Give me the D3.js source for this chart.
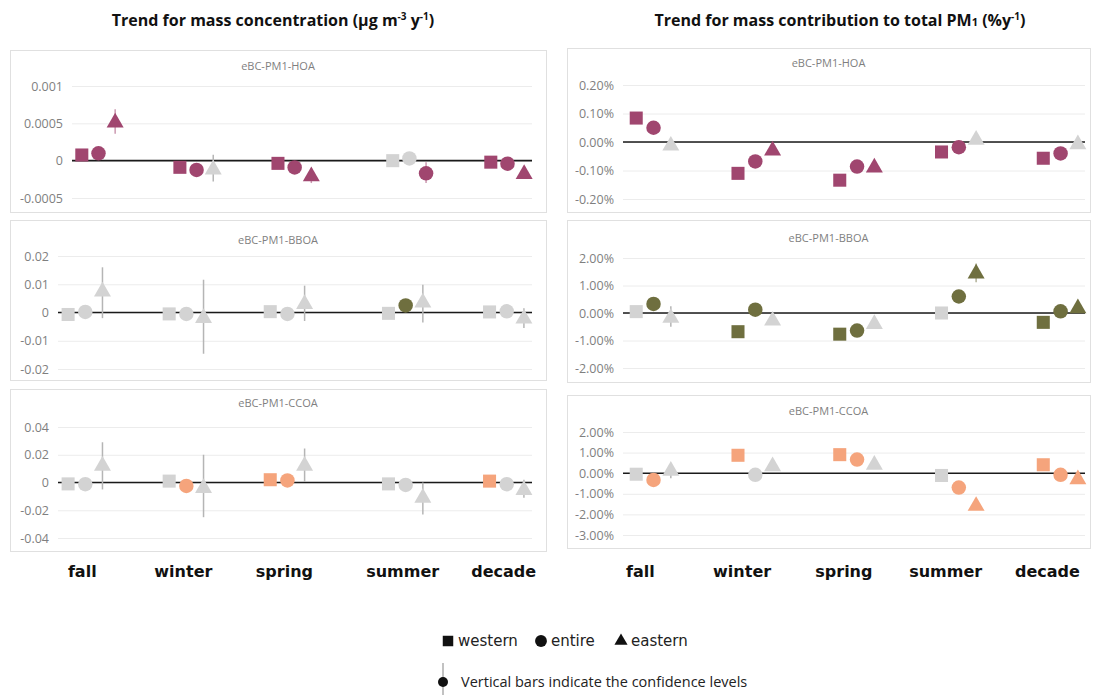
<!DOCTYPE html>
<html>
<head>
<meta charset="utf-8">
<script src="https://cdn.jsdelivr.net/npm/d3@7"></script>
<style>
  body { margin: 0; background: #fff; }
  svg { display: block; }
</style>
</head>
<body>
<div id="chart"></div>
<script>
// seasons on the x axis
const seasons = ['fall', 'winter', 'spring', 'summer', 'decade'];
// x values of the seasons in the two charts (the concentration chart has a wider summer gap)
const concX = [1, 2, 3, 4.17, 5.17];
const shareX = [1, 2, 3, 4, 5];
const seriesNames = ['western', 'entire', 'eastern'];

// mass concentration trends (ug m-3 y-1)
const concHOA_western = [0.000076, -0.000089, -0.000036, 0.0, -0.00002];
const concHOA_entire  = [0.000098, -0.000124, -0.00009, 0.00003, -0.00004];
const concHOA_eastern = [0.00051, -0.00012, -0.00021, -0.00017, -0.00018];
const concHOA_sig = [[1, 1, 1, 0, 1], [1, 1, 1, 0, 1], [1, 0, 1, 1, 1]];
const concHOA_bars = [[0.00036, 0.00069], [-0.00028, 0.00008], [-0.0003, -0.0001], [-0.0003, -0.00002], null];

const concBBOA_western = [-0.0007, -0.0005, 0.0003, -0.0003, 0.0002];
const concBBOA_entire  = [0.0002, -0.0005, -0.0005, 0.0025, 0.0004];
const concBBOA_eastern = [0.0074, -0.002, 0.003, 0.0035, -0.0022];
const concBBOA_sig = [[0, 0, 0, 0, 0], [0, 0, 0, 1, 0], [0, 0, 0, 0, 0]];
const concBBOA_bars = [[-0.002, 0.016], [-0.0146, 0.0116], [-0.003, 0.0095], [-0.0035, 0.0098], [-0.0055, 0.0015]];

const concCCOA_western = [-0.001, 0.001, 0.002, -0.001, 0.001];
const concCCOA_entire  = [-0.0012, -0.0025, 0.0015, -0.0018, -0.0012];
const concCCOA_eastern = [0.012, -0.004, 0.012, -0.011, -0.0055];
const concCCOA_sig = [[0, 0, 1, 0, 1], [0, 1, 1, 0, 0], [0, 0, 0, 0, 0]];
const concCCOA_bars = [[-0.005, 0.029], [-0.025, 0.02], [0.0005, 0.0245], [-0.023, 0.0], [-0.011, 0.002]];

// mass contribution trends (fraction of total PM1 per year)
const shareHOA_western = [0.00084, -0.0011, -0.00134, -0.00035, -0.00057];
const shareHOA_entire  = [0.0005, -0.00068, -0.00086, -0.00018, -0.0004];
const shareHOA_eastern = [-0.00013, -0.0003, -0.0009, 0.00008, -0.00008];
const shareHOA_sig = [[1, 1, 1, 1, 1], [1, 1, 1, 1, 1], [0, 1, 1, 0, 0]];
const shareHOA_bars = [null, null, null, null, null];

const shareBBOA_western = [0.0005, -0.0068, -0.0077, 0.0, -0.0034];
const shareBBOA_entire  = [0.0033, 0.0012, -0.0064, 0.006, 0.0006];
const shareBBOA_eastern = [-0.0018, -0.0028, -0.004, 0.0143, 0.0017];
const shareBBOA_sig = [[0, 1, 1, 0, 1], [1, 1, 1, 1, 1], [0, 0, 0, 1, 1]];
const shareBBOA_bars = [[-0.005, 0.0025], null, null, [0.0112, 0.018], null];

const shareCCOA_western = [-0.0005, 0.0087, 0.009, -0.0011, 0.0041];
const shareCCOA_entire  = [-0.0033, -0.0008, 0.0066, -0.007, -0.0008];
const shareCCOA_eastern = [0.0011, 0.0033, 0.0041, -0.0159, -0.003];
const shareCCOA_sig = [[0, 1, 1, 0, 1], [1, 0, 1, 1, 1], [0, 0, 0, 1, 1]];
const shareCCOA_bars = [[-0.0025, 0.004], null, null, null, null];

// tick values per panel
const concHOA_ticks = [0.001, 0.0005, 0, -0.0005];
const concBBOA_ticks = [0.02, 0.01, 0, -0.01, -0.02];
const concCCOA_ticks = [0.04, 0.02, 0, -0.02, -0.04];
const shareHOA_ticks = [0.002, 0.001, 0, -0.001, -0.002];
const shareBBOA_ticks = [0.02, 0.01, 0, -0.01, -0.02];
const shareCCOA_ticks = [0.02, 0.01, 0, -0.01, -0.02, -0.03];

// the eastern summer HOA concentration point is drawn as a circle in the original
const shapeOverride = { 'concHOA-eastern-summer': 'circle' };

const colors = { HOA: '#a0466f', BBOA: '#6f6f3f', CCOA: '#f5a47c' };
const grey = '#d3d3d3';

const width = 1101, height = 695;
const svg = d3.select('#chart').append('svg')
  .attr('width', width).attr('height', height)
  .attr('viewBox', `0 0 ${width} ${height}`);

const pctFmt = v => (v * 100).toFixed(2) + '%';
const numFmt = v => String(v);

const panels = [
  { id: 'concHOA', name: 'eBC-PM1-HOA', src: 'HOA', xs: concX, xd: [0.73, 5.42], w: concHOA_western, e: concHOA_entire, t: concHOA_eastern,
    sig: concHOA_sig, bars: concHOA_bars, ticks: concHOA_ticks, fmt: numFmt,
    box: [10, 50, 536, 162], plot: [72, 532, 86, 198], subY: 66 },
  { id: 'concBBOA', name: 'eBC-PM1-BBOA', src: 'BBOA', xs: concX, xd: [0.73, 5.42], w: concBBOA_western, e: concBBOA_entire, t: concBBOA_eastern,
    sig: concBBOA_sig, bars: concBBOA_bars, ticks: concBBOA_ticks, fmt: numFmt,
    box: [10, 220, 536, 160], plot: [58, 532, 256, 369], subY: 240 },
  { id: 'concCCOA', name: 'eBC-PM1-CCOA', src: 'CCOA', xs: concX, xd: [0.73, 5.42], w: concCCOA_western, e: concCCOA_entire, t: concCCOA_eastern,
    sig: concCCOA_sig, bars: concCCOA_bars, ticks: concCCOA_ticks, fmt: numFmt,
    box: [10, 389, 536, 162], plot: [58, 532, 427, 538], subY: 403 },
  { id: 'shareHOA', name: 'eBC-PM1-HOA', src: 'HOA', xs: shareX, xd: [0.7, 5.24], w: shareHOA_western, e: shareHOA_entire, t: shareHOA_eastern,
    sig: shareHOA_sig, bars: shareHOA_bars, ticks: shareHOA_ticks, fmt: pctFmt,
    box: [567, 48, 523, 164], plot: [623, 1085, 85, 199], subY: 63 },
  { id: 'shareBBOA', name: 'eBC-PM1-BBOA', src: 'BBOA', xs: shareX, xd: [0.7, 5.24], w: shareBBOA_western, e: shareBBOA_entire, t: shareBBOA_eastern,
    sig: shareBBOA_sig, bars: shareBBOA_bars, ticks: shareBBOA_ticks, fmt: pctFmt,
    box: [567, 220, 523, 162], plot: [623, 1085, 258, 368], subY: 238 },
  { id: 'shareCCOA', name: 'eBC-PM1-CCOA', src: 'CCOA', xs: shareX, xd: [0.7, 5.24], w: shareCCOA_western, e: shareCCOA_entire, t: shareCCOA_eastern,
    sig: shareCCOA_sig, bars: shareCCOA_bars, ticks: shareCCOA_ticks, fmt: pctFmt,
    box: [567, 395, 523, 153], plot: [623, 1085, 432, 535], subY: 411 }
];

const offsets = [-0.17, 0, 0.17];
const symbols = { western: d3.symbolSquare, entire: d3.symbolCircle, eastern: d3.symbolTriangle, circle: d3.symbolCircle };
const symSize = { western: 170, entire: 165, eastern: 125, circle: 165 };

panels.forEach(p => {
  const [bx, by, bw, bh] = p.box;
  const [pl, pr, pt, pb] = p.plot;
  const x = d3.scaleLinear().domain(p.xd).range([pl, pr]);
  const y = d3.scaleLinear().domain([d3.min(p.ticks), d3.max(p.ticks)]).range([pb, pt]);
  p.x = x;

  const g = svg.append('g');
  g.append('rect')
    .attr('x', bx + 0.5).attr('y', by + 0.5)
    .attr('width', bw).attr('height', bh)
    .attr('fill', '#fff').attr('stroke', '#e0e0e0');

  g.append('text')
    .attr('x', bx + bw / 2).attr('y', p.subY)
    .attr('text-anchor', 'middle').attr('dy', '0.35em')
    .attr('font-family', 'Open Sans, sans-serif').attr('font-size', 11)
    .attr('fill', '#7f7f7f')
    .text(p.name);

  const axis = d3.axisLeft(y).tickValues(p.ticks).tickFormat(p.fmt)
    .tickSize(-(pr - pl)).tickPadding(9);
  const ag = g.append('g').attr('transform', `translate(${pl},0)`).call(axis);
  ag.select('.domain').remove();
  ag.selectAll('.tick line').attr('stroke', '#ececec');
  ag.selectAll('.tick text')
    .attr('font-family', 'Open Sans, sans-serif').attr('font-size', 12.5)
    .attr('fill', '#7f7f7f');

  // zero line
  g.append('line')
    .attr('x1', pl).attr('x2', pr)
    .attr('y1', y(0)).attr('y2', y(0))
    .attr('stroke', '#1a1a1a').attr('stroke-width', 1.6);

  const pts = [];
  [p.w, p.e, p.t].forEach((vals, si) => {
    vals.forEach((v, i) => {
      const key = `${p.id}-${seriesNames[si]}-${seasons[i]}`;
      pts.push({
        xv: p.xs[i] + offsets[si], v,
        series: seriesNames[si],
        shape: shapeOverride[key] || seriesNames[si],
        sig: p.sig[si][i],
        bar: si === 2 ? p.bars[i] : null
      });
    });
  });

  g.selectAll('line.err')
    .data(pts.filter(d => d.bar))
    .enter().append('line')
    .attr('class', 'err')
    .attr('x1', d => x(d.xv)).attr('x2', d => x(d.xv))
    .attr('y1', d => y(d.bar[0])).attr('y2', d => y(d.bar[1]))
    .attr('stroke', d => d.sig ? colors[p.src] : '#b5b5b5')
    .attr('stroke-opacity', d => d.sig ? 0.55 : 1)
    .attr('stroke-width', 1.5);

  g.selectAll('path.pt')
    .data(pts)
    .enter().append('path')
    .attr('class', 'pt')
    .attr('transform', d => `translate(${x(d.xv)},${y(d.v)})`)
    .attr('d', d => d3.symbol().type(symbols[d.shape]).size(symSize[d.shape])())
    .attr('fill', d => d.sig ? colors[p.src] : grey);
});

// season labels under the bottom panels
[panels[2], panels[5]].forEach((p, k) => {
  svg.selectAll(null)
    .data(seasons)
    .enter().append('text')
    .attr('x', (d, i) => p.x(p.xs[i] - (k === 1 ? 0.1 : 0)) - 3)
    .attr('y', 577)
    .attr('text-anchor', 'middle')
    .attr('font-family', 'DejaVu Sans, sans-serif').attr('font-weight', 'bold')
    .attr('font-size', 16).attr('fill', '#111')
    .text(d => d);
});

// titles
const t1 = svg.append('text')
  .attr('x', 273).attr('y', 26).attr('text-anchor', 'middle')
  .attr('font-family', 'Open Sans, sans-serif').attr('font-weight', 'bold')
  .attr('font-size', 16).attr('fill', '#111');
t1.append('tspan').text('Trend for mass concentration (µg m');
t1.append('tspan').attr('font-size', 10).attr('dy', -6).text('-3');
t1.append('tspan').attr('dy', 6).text(' y');
t1.append('tspan').attr('font-size', 10).attr('dy', -6).text('-1');
t1.append('tspan').attr('dy', 6).text(')');

const t2 = svg.append('text')
  .attr('x', 840).attr('y', 26).attr('text-anchor', 'middle')
  .attr('font-family', 'Open Sans, sans-serif').attr('font-weight', 'bold')
  .attr('font-size', 16).attr('fill', '#111');
t2.append('tspan').text('Trend for  mass contribution to total PM');
t2.append('tspan').attr('font-size', 11).text('1');
t2.append('tspan').text(' (%y');
t2.append('tspan').attr('font-size', 10).attr('dy', -6).text('-1');
t2.append('tspan').attr('dy', 6).text(')');

// legend
const legendItems = [
  { label: 'western', shape: 'western', x: 448 },
  { label: 'entire', shape: 'entire', x: 541 },
  { label: 'eastern', shape: 'eastern', x: 621 }
];
const lg = svg.append('g');
lg.selectAll('path')
  .data(legendItems).enter().append('path')
  .attr('transform', d => `translate(${d.x},641)`)
  .attr('d', d => d3.symbol().type(symbols[d.shape]).size(d.shape === 'eastern' ? 75 : 110)())
  .attr('fill', '#111');
lg.selectAll('text')
  .data(legendItems).enter().append('text')
  .attr('x', d => d.x + 10).attr('y', 641).attr('dy', '0.35em')
  .attr('font-family', 'DejaVu Sans, sans-serif').attr('font-size', 15)
  .attr('fill', '#222')
  .text(d => d.label);

lg.append('line')
  .attr('x1', 443).attr('x2', 443).attr('y1', 663).attr('y2', 695)
  .attr('stroke', '#999').attr('stroke-width', 1.2);
lg.append('circle').attr('cx', 443).attr('cy', 682).attr('r', 5).attr('fill', '#111');
lg.append('text')
  .attr('x', 461).attr('y', 682).attr('dy', '0.35em')
  .attr('font-family', 'Open Sans, sans-serif').attr('font-size', 14.5)
  .attr('fill', '#222')
  .text('Vertical bars indicate the confidence  levels');
</script>
</body>
</html>
